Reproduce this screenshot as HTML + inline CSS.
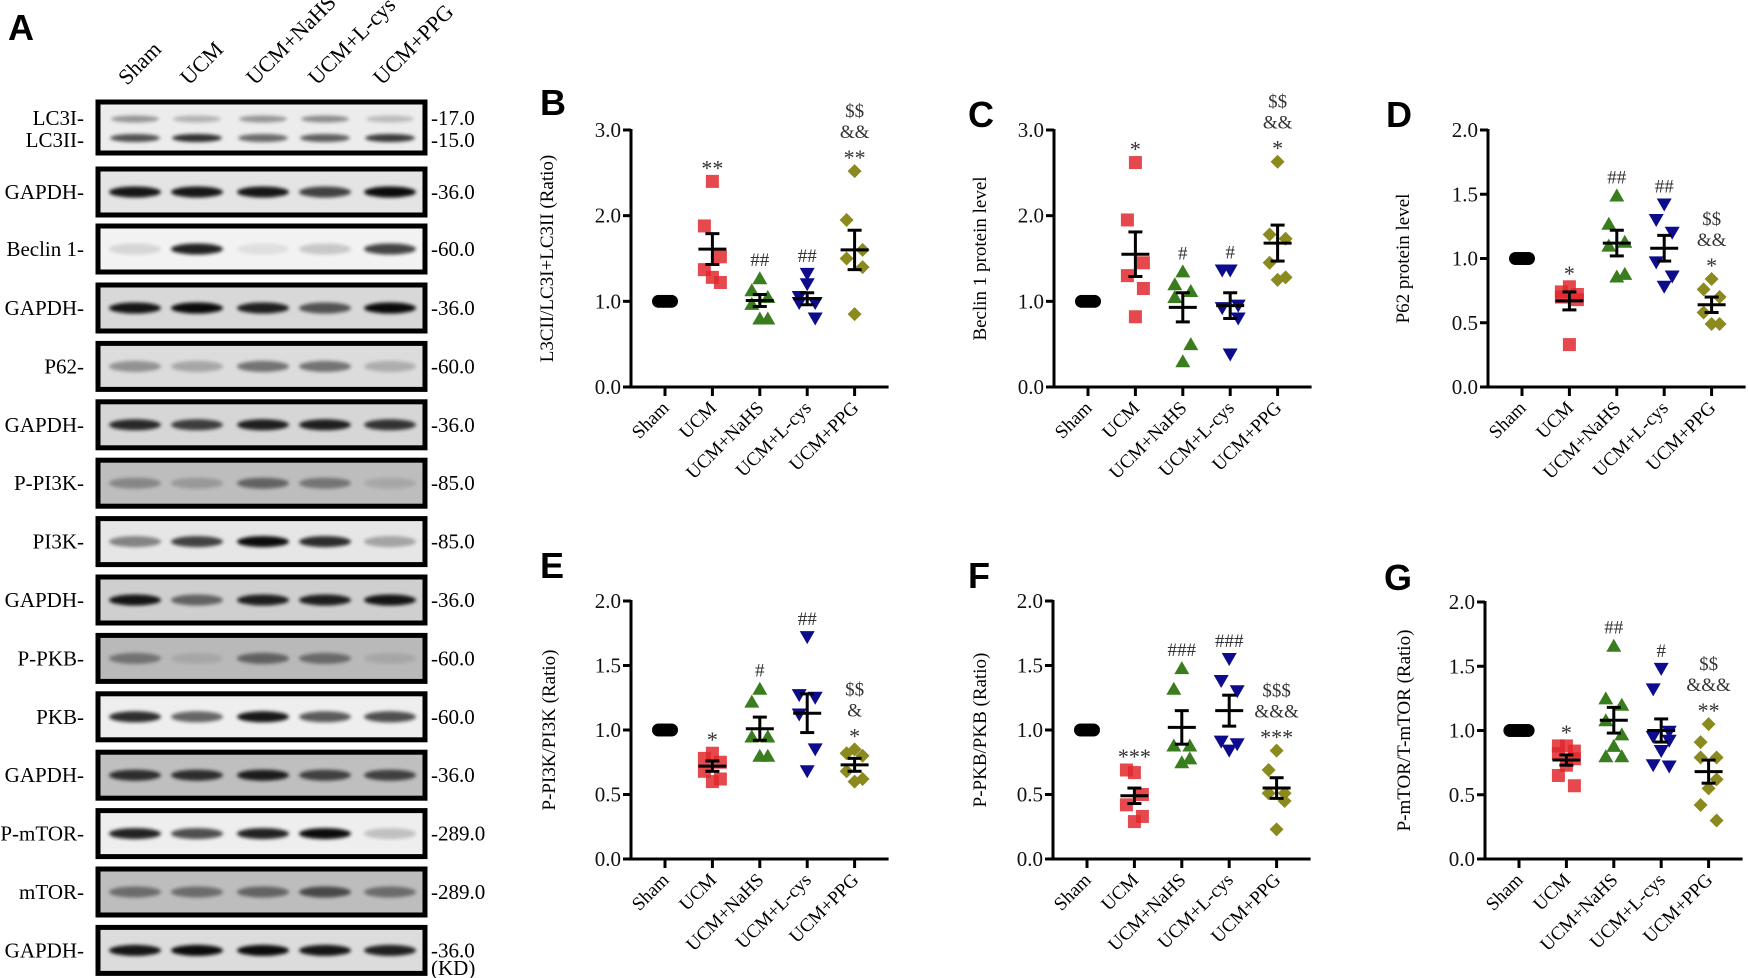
<!DOCTYPE html>
<html><head><meta charset="utf-8">
<style>
html,body{margin:0;padding:0;background:#fff;width:1748px;height:978px;overflow:hidden}
svg{display:block}
text{font-family:"Liberation Serif",serif}
.pl{font-family:"Liberation Sans",sans-serif;font-weight:bold;font-size:36px}
</style></head>
<body>
<svg id="fig" width="1748" height="978" viewBox="0 0 1748 978" xmlns="http://www.w3.org/2000/svg">
<defs>
<filter id="blur" x="-20%" y="-50%" width="140%" height="200%"><feGaussianBlur stdDeviation="1.8"/></filter>
</defs>
</svg>
<script>
const NS="http://www.w3.org/2000/svg";
const svg=document.getElementById('fig');
function mk(tag,attrs,parent,txt){const e=document.createElementNS(NS,tag);for(const k in attrs)e.setAttribute(k,attrs[k]);if(txt!==undefined)e.textContent=txt;(parent||svg).appendChild(e);return e;}

// ---------- Western blot data ----------
const blotLanes=["Sham","UCM","UCM+NaHS","UCM+L-cys","UCM+PPG"];
const blotLabels=["LC3","GAPDH-","Beclin 1-","GAPDH-","P62-","GAPDH-","P-PI3K-","PI3K-","GAPDH-","P-PKB-","PKB-","GAPDH-","P-mTOR-","mTOR-","GAPDH-"];
const blotMW=["","-36.0","-60.0","-36.0","-60.0","-36.0","-85.0","-85.0","-36.0","-60.0","-60.0","-36.0","-289.0","-289.0","-36.0"];
const blotIntensity=[
 [.45,.3,.45,.5,.25],[.95,.95,.95,.75,1],[.12,.9,.08,.18,.75],[.95,1,.9,.65,1],[.35,.25,.5,.5,.22],
 [.85,.75,.9,.9,.8],[.3,.2,.5,.4,.12],[.45,.75,1,.85,.3],[.95,.55,.9,.9,.95],[.4,.1,.5,.45,.1],
 [.85,.6,.95,.65,.7],[.8,.8,.9,.7,.7],[.9,.7,.9,1,.2],[.45,.45,.5,.65,.45],[.95,1,1,.95,.9]];
const blotBg=["#ececec","#e4e4e4","#f2f2f2","#d8d8d8","#dcdcdc","#d6d6d6","#bdbdbd","#e6e6e6","#cfcfcf","#b9b9b9","#eeeeee","#bfbfbf","#eeeeee","#bdbdbd","#dcdcdc"];

const laneX=[135,197,263,325,390];
const g0=mk('g',{});
mk('text',{x:8,y:40,class:'pl',},g0,'A');
blotLanes.forEach((l,i)=>{
  const t=mk('text',{x:laneX[i]-8,y:86,'font-size':22,'text-anchor':'start',transform:`rotate(-45 ${laneX[i]-8} 86)`},g0,l);
  
  
});
for(let r=0;r<15;r++){
  const top = r===0?100:(r<4?[0,167,224,283][r]:283+(r-3)*58.4);
  const h = r===0?55:50;
  const gr=mk('g',{},g0);
  
  
  mk('rect',{x:98,y:top+2,width:327,height:h-4,fill:blotBg[r],stroke:'#000','stroke-width':5},gr);
  const cy=top+h/2;
  if(r===0){
    blotIntensity[0].forEach((v,i)=>{
      mk('ellipse',{cx:laneX[i],cy:top+19,rx:24,ry:3.5,fill:'#000',opacity:v*0.8,filter:'url(#blur)'},gr);
      mk('ellipse',{cx:laneX[i],cy:top+38,rx:25,ry:4,fill:'#000',opacity:[.65,.8,.55,.6,.75][i],filter:'url(#blur)'},gr);
    });
    mk('text',{x:84,y:top+25,'font-size':21,'text-anchor':'end'},gr,'LC3I-');
    mk('text',{x:84,y:top+47,'font-size':21,'text-anchor':'end'},gr,'LC3II-');
    mk('text',{x:431,y:top+25,'font-size':21},gr,'-17.0');
    mk('text',{x:431,y:top+47,'font-size':21},gr,'-15.0');
  } else {
    blotIntensity[r].forEach((v,i)=>{
      mk('ellipse',{cx:laneX[i],cy:cy,rx:26,ry:5.5,fill:'#000',opacity:v*0.95,filter:'url(#blur)'},gr);
    });
    mk('text',{x:84,y:cy+7,'font-size':21,'text-anchor':'end'},gr,blotLabels[r]);
    mk('text',{x:431,y:cy+7,'font-size':21},gr,blotMW[r]);
  }
}
mk('text',{x:431,y:975,'font-size':21,},g0,'(KD)');

// ---------- Chart data ----------
const groups=["Sham","UCM","UCM+NaHS","UCM+L-cys","UCM+PPG"];
const groupColors=["#000000","#e0282e","#3a7d1e","#0c0c8c","#8a8a1e"];
const groupShapes=["circle","square","triangle","tri-down","diamond"];

const bSham=[1,1,1,1,1,1], bUCM=[2.4,1.88,1.52,1.37,1.22,1.28], bNaHS=[1.27,1.13,1.05,0.97,0.8,0.8], bLcys=[1.32,1.05,0.98,0.98,0.8,1.2], bPPG=[2.52,1.95,1.6,1.5,1.4,0.85];
const bMean=[1,1.61,1.01,1.03,1.6], bSem=[0,0.18,0.07,0.07,0.23];
const bAnn=[[],["**"],["##"],["##"],["$$","&&","**"]];

const cSham=[1,1,1,1,1,1], cUCM=[2.62,1.95,1.45,1.3,1.15,0.82], cNaHS=[1.35,1.2,1.12,1.05,0.5,0.3], cLcys=[1.36,1.36,0.95,0.92,0.8,0.38], cPPG=[2.63,1.78,1.73,1.45,1.28,1.25];
const cMean=[1,1.55,0.93,0.95,1.68], cSem=[0,0.26,0.17,0.15,0.21];
const cAnn=[[],["*"],["#"],["#"],["$$","&&","*"]];

const dSham=[1,1,1,1,1,1], dUCM=[0.78,0.74,0.72,0.7,0.68,0.33], dNaHS=[1.49,1.27,1.13,1.1,0.88,0.86], dLcys=[1.42,1.3,1.2,0.97,0.86,0.78], dPPG=[0.84,0.76,0.7,0.58,0.49,0.49];
const dMean=[1,0.67,1.12,1.08,0.64], dSem=[0,0.07,0.1,0.1,0.06];
const dAnn=[[],["*"],["##"],["##"],["$$","&&","*"]];

const eSham=[1,1,1,1,1,1], eUCM=[0.82,0.78,0.75,0.68,0.62,0.6], eNaHS=[1.32,1.22,0.95,0.95,0.8,0.8], eLcys=[1.72,1.27,1.25,1.12,0.85,0.68], ePPG=[0.85,0.82,0.8,0.68,0.62,0.6];
const eMean=[1,0.72,1.01,1.13,0.73], eSem=[0,0.04,0.09,0.15,0.05];
const eAnn=[[],["*"],["#"],["##"],["$$","&","*"]];

const fSham=[1,1,1,1,1,1], fUCM=[0.67,0.69,0.5,0.42,0.33,0.29], fNaHS=[1.48,1.32,0.88,0.88,0.78,0.75], fLcys=[1.55,1.38,1.3,0.91,0.89,0.84], fPPG=[0.84,0.69,0.51,0.51,0.45,0.23];
const fMean=[1,0.49,1.02,1.15,0.55], fSem=[0,0.06,0.13,0.12,0.08];
const fAnn=[[],["***"],["###"],["###"],["$$$","&&&","***"]];

const gSham=[1,1,1,1,1,1,1,1], gUCM=[0.88,0.88,0.84,0.82,0.78,0.73,0.65,0.57], gNaHS=[1.66,1.25,1.2,1.08,0.97,0.88,0.8,0.8], gLcys=[1.48,1.32,0.99,0.95,0.92,0.84,0.73,0.72], gPPG=[1.05,0.91,0.79,0.79,0.62,0.55,0.42,0.3];
const gMean=[1,0.77,1.08,1.0,0.68], gSem=[0,0.04,0.1,0.09,0.09];
const gAnn=[[],["*"],["##"],["#"],["$$","&&&","**"]];

const yTicks3=[0,1,2,3], yTicks2=[0,0.5,1,1.5,2];

const panels=[
 {id:'b',letter:'B',lx:540,ly:115,ax:631,y0:387,yt:130,max:3,ticks:yTicks3,title:'L3CII/LC3I+LC3II (Ratio)',tx:553,data:[bSham,bUCM,bNaHS,bLcys,bPPG],mean:bMean,sem:bSem,ann:bAnn},
 {id:'c',letter:'C',lx:968,ly:127,ax:1054,y0:387,yt:130,max:3,ticks:yTicks3,title:'Beclin 1 protein level',tx:986,data:[cSham,cUCM,cNaHS,cLcys,cPPG],mean:cMean,sem:cSem,ann:cAnn},
 {id:'d',letter:'D',lx:1386,ly:127,ax:1488,y0:387,yt:130,max:2,ticks:yTicks2,title:'P62 protein level',tx:1409,data:[dSham,dUCM,dNaHS,dLcys,dPPG],mean:dMean,sem:dSem,ann:dAnn},
 {id:'e',letter:'E',lx:540,ly:578,ax:631,y0:859,yt:601,max:2,ticks:yTicks2,title:'P-PI3K/PI3K (Ratio)',tx:555,data:[eSham,eUCM,eNaHS,eLcys,ePPG],mean:eMean,sem:eSem,ann:eAnn},
 {id:'f',letter:'F',lx:968,ly:588,ax:1053,y0:859,yt:601,max:2,ticks:yTicks2,title:'P-PKB/PKB (Ratio)',tx:986,data:[fSham,fUCM,fNaHS,fLcys,fPPG],mean:fMean,sem:fSem,ann:fAnn},
 {id:'g',letter:'G',lx:1384,ly:590,ax:1485,y0:859,yt:602,max:2,ticks:yTicks2,title:'P-mTOR/T-mTOR (Ratio)',tx:1410,data:[gSham,gUCM,gNaHS,gLcys,gPPG],mean:gMean,sem:gSem,ann:gAnn}
];

const jit=[0,-8,8,-8,8,0,-8,8];
function marker(g,shape,x,y,color){
  const s=6.5;let e;
  if(shape==='circle') e=mk('circle',{cx:x,cy:y,r:6.5,fill:color},g);
  else if(shape==='square') e=mk('rect',{x:x-s,y:y-s,width:2*s,height:2*s,fill:color,opacity:0.85},g);
  else if(shape==='triangle') e=mk('polygon',{points:`${x},${y-7} ${x-7.5},${y+6} ${x+7.5},${y+6}`,fill:color},g);
  else if(shape==='tri-down') e=mk('polygon',{points:`${x},${y+7} ${x-7.5},${y-6} ${x+7.5},${y-6}`,fill:color},g);
  else e=mk('polygon',{points:`${x},${y-7} ${x+7},${y} ${x},${y+7} ${x-7},${y}`,fill:color},g);
  return e;
}

panels.forEach(p=>{
  const g=mk('g',{});
  
  
  const yS=v=>p.y0-v/p.max*(p.y0-p.yt);
  const xS=i=>p.ax+34+i*47.4;
  const lt=mk('text',{x:p.lx,y:p.ly,class:'pl'},g,p.letter);
  
  
  const ya=mk('line',{x1:p.ax,y1:p.yt-1,x2:p.ax,y2:p.y0+1.5,stroke:'#000','stroke-width':3},g);
  
  
  const xa=mk('line',{x1:p.ax-1.5,y1:p.y0,x2:xS(4)+34,y2:p.y0,stroke:'#000','stroke-width':3},g);
  
  
  p.ticks.forEach(t=>{
    mk('line',{x1:p.ax-8,y1:yS(t),x2:p.ax,y2:yS(t),stroke:'#000','stroke-width':3},g);
    const tl=mk('text',{x:p.ax-10,y:yS(t)+7,'font-size':21,'text-anchor':'end',fill:'#111'},g,t.toFixed(1));
    
    
  });
  const yc=(p.y0+p.yt)/2;
  const tt=mk('text',{x:p.tx,y:yc,'font-size':19,'text-anchor':'middle',transform:`rotate(-90 ${p.tx} ${yc})`},g,p.title);
  
  
  groups.forEach((gn,i)=>{
    const x=xS(i);
    mk('line',{x1:x,y1:p.y0,x2:x,y2:p.y0+9,stroke:'#000','stroke-width':3},g);
    const lx=x+5,ly=p.y0+22;
    const xl=mk('text',{x:lx,y:ly,'font-size':19,'text-anchor':'end',transform:`rotate(-45 ${lx} ${ly})`},g,gn);
    
    
    const vals=p.data[i];
    vals.forEach((v,k)=>{
      const off = i===0 ? (k-(vals.length-1)/2)*2.6 : jit[k%jit.length];
      const m=marker(g,groupShapes[i],x+off,yS(v),groupColors[i]);
      
      
    });
    if(i>0){
      const mY=yS(p.mean[i]),hi=yS(p.mean[i]+p.sem[i]),lo=yS(p.mean[i]-p.sem[i]);
      const eb=mk('g',{},g);
      
      
      mk('line',{x1:x-14,y1:mY,x2:x+14,y2:mY,stroke:'#000','stroke-width':3},eb);
      mk('line',{x1:x,y1:hi,x2:x,y2:lo,stroke:'#000','stroke-width':3},eb);
      mk('line',{x1:x-7,y1:hi,x2:x+7,y2:hi,stroke:'#000','stroke-width':3},eb);
      mk('line',{x1:x-7,y1:lo,x2:x+7,y2:lo,stroke:'#000','stroke-width':3},eb);
      const top=Math.min(yS(Math.max(...vals)),hi);
      const a=p.ann[i];
      a.forEach((s,k)=>{
        const yy=top-12-(a.length-1-k)*21;
        const isStar=s.indexOf('*')>=0;
        const at=mk('text',{x:x,y:yy+(isStar?6:0),'font-size':isStar?22:19,'text-anchor':'middle',fill:'#333'},g,s);
        
        
      });
    }
  });
});
</script>
</body></html>
